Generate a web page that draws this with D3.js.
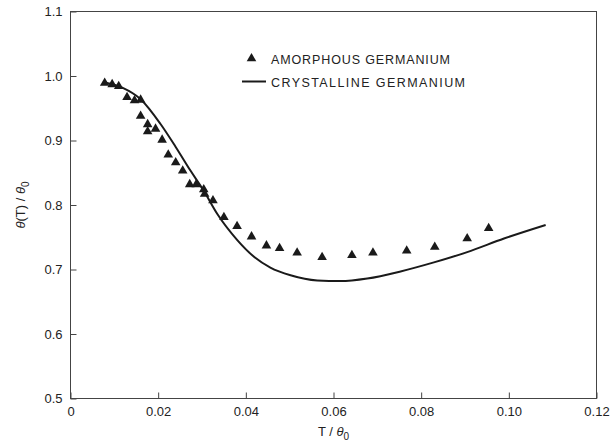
<!DOCTYPE html>
<html>
<head>
<meta charset="utf-8">
<script src="https://cdn.jsdelivr.net/npm/d3@7"></script>
<style>
  html, body { margin: 0; padding: 0; background: #fff; }
  svg { display: block; }
  text { font-family: "Liberation Sans", "DejaVu Sans", sans-serif; fill: #222; }
</style>
</head>
<body>
<svg id="chart" width="613" height="446"></svg>
<script>
// ---- data ----
const amorphousT = [0.0078, 0.0095, 0.0110, 0.0129, 0.0146, 0.0160, 0.0160, 0.0176, 0.0176, 0.0194,
  0.0209, 0.0223, 0.0240, 0.0256, 0.0272, 0.0287, 0.0304, 0.0306, 0.0325, 0.0350,
  0.0380, 0.0413, 0.0447, 0.0477, 0.0517, 0.0574, 0.0642, 0.0690, 0.0767, 0.0831, 0.0905, 0.0954];
const amorphousTheta = [0.989, 0.987, 0.984, 0.967, 0.962, 0.963, 0.938, 0.925, 0.914, 0.918,
  0.901, 0.878, 0.866, 0.853, 0.832, 0.832, 0.824, 0.817, 0.807, 0.781,
  0.767, 0.751, 0.737, 0.733, 0.726, 0.719, 0.722, 0.726, 0.729, 0.735, 0.748, 0.764];
const crystallineT = [0.0078, 0.0118, 0.0160, 0.0205, 0.0240, 0.0274, 0.0304, 0.0335, 0.0380, 0.0420,
  0.0456, 0.0502, 0.0563, 0.0616, 0.0677, 0.0753, 0.0829, 0.0905, 0.0989, 0.1084];
const crystallineTheta = [0.990, 0.982, 0.964, 0.926, 0.890, 0.853, 0.822, 0.786, 0.746, 0.719,
  0.703, 0.691, 0.683, 0.682, 0.686, 0.697, 0.711, 0.727, 0.748, 0.769];
const xTicks = [0, 0.02, 0.04, 0.06, 0.08, 0.10, 0.12];
const xTickLabels = ["0", "0.02", "0.04", "0.06", "0.08", "0.10", "0.12"];
const yTicks = [0.5, 0.6, 0.7, 0.8, 0.9, 1.0, 1.1];
const yTickLabels = ["0.5", "0.6", "0.7", "0.8", "0.9", "1.0", "1.1"];
const legendLabels = ["AMORPHOUS GERMANIUM", "CRYSTALLINE GERMANIUM"];

// ---- layout ----
const L = 70.5, R = 596.5, T = 11.5, B = 398.5;
const svg = d3.select("#chart");
const x = d3.scaleLinear().domain([0, 0.12]).range([L, R]);
const y = d3.scaleLinear().domain([0.5, 1.1]).range([B, T]);
const ink = "#1a1a1a";

// frame
svg.append("rect").attr("x", L).attr("y", T).attr("width", R - L).attr("height", B - T)
  .attr("fill", "none").attr("stroke", "#444").attr("stroke-width", 1);

// x axis (ticks inward)
const xAxis = d3.axisBottom(x).tickValues(xTicks).tickSize(-6).tickPadding(8)
  .tickFormat((d, i) => xTickLabels[i]);
const gx = svg.append("g").attr("transform", `translate(0,${B})`).call(xAxis);
gx.select(".domain").remove();
gx.selectAll("line").attr("stroke", "#444");
gx.selectAll("text").attr("font-size", 13).attr("fill", "#222")
  .attr("font-family", "Liberation Sans, sans-serif");

// y axis (ticks inward)
const yAxis = d3.axisLeft(y).tickValues(yTicks).tickSize(-6).tickPadding(8)
  .tickFormat((d, i) => yTickLabels[i]);
const gy = svg.append("g").attr("transform", `translate(${L},0)`).call(yAxis);
gy.select(".domain").remove();
gy.selectAll("line").attr("stroke", "#444");
gy.selectAll("text").attr("font-size", 13).attr("fill", "#222")
  .attr("font-family", "Liberation Sans, sans-serif");

// axis titles
const xt = svg.append("text").attr("x", x(0.06)).attr("y", 436).attr("text-anchor", "middle")
  .attr("font-size", 13);
xt.append("tspan").text("T / ");
xt.append("tspan").attr("font-style", "italic").text("θ");
xt.append("tspan").attr("font-size", 10).attr("dy", 4).text("0");

const yt = svg.append("text").attr("transform", `translate(25,${y(0.8)}) rotate(-90)`)
  .attr("text-anchor", "middle").attr("font-size", 13);
yt.append("tspan").attr("font-style", "italic").text("θ");
yt.append("tspan").text("(T) / ");
yt.append("tspan").attr("font-style", "italic").text("θ");
yt.append("tspan").attr("font-size", 10).attr("dy", 4).text("0");

// crystalline curve
const crys = crystallineT.map((t, i) => [t, crystallineTheta[i]]);
svg.append("path").datum(crys)
  .attr("d", d3.line().x(d => x(d[0])).y(d => y(d[1])).curve(d3.curveMonotoneX))
  .attr("fill", "none").attr("stroke", ink).attr("stroke-width", 2);

// amorphous triangles
const tri = d3.symbol().type(d3.symbolTriangle).size(40);
svg.append("g").selectAll("path")
  .data(amorphousT.map((t, i) => [t, amorphousTheta[i]]))
  .join("path")
  .attr("transform", d => `translate(${x(d[0])},${y(d[1])})`)
  .attr("d", tri).attr("fill", ink);

// legend
svg.append("path").attr("transform", "translate(251.5,58.5)").attr("d", tri).attr("fill", ink);
svg.append("line").attr("x1", 242).attr("x2", 266).attr("y1", 81.5).attr("y2", 81.5)
  .attr("stroke", ink).attr("stroke-width", 2);
svg.append("text").attr("x", 271).attr("y", 63.5).attr("font-size", 12.5)
  .attr("textLength", 179).attr("lengthAdjust", "spacing").text(legendLabels[0]);
svg.append("text").attr("x", 271).attr("y", 86.5).attr("font-size", 12.5)
  .attr("textLength", 194).attr("lengthAdjust", "spacing").text(legendLabels[1]);
</script>
</body>
</html>
